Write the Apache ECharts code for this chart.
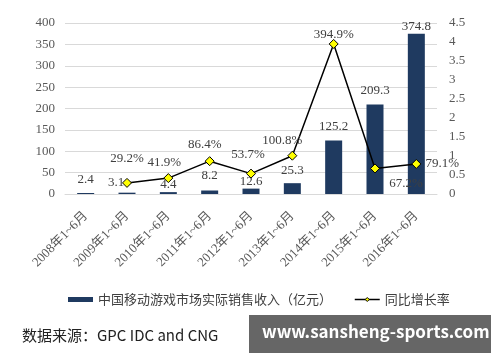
<!DOCTYPE html>
<html>
<head>
<meta charset="utf-8">
<script src="https://cdn.jsdelivr.net/npm/echarts@6/dist/echarts.min.js"></script>
<style>html,body{margin:0;padding:0;background:#fff}#c{width:500px;height:362px}</style>
</head>
<body>
<div id="c"></div>
<script>
var categories = ['2008年1~6月','2009年1~6月','2010年1~6月','2011年1~6月','2012年1~6月','2013年1~6月','2014年1~6月','2015年1~6月','2016年1~6月'];
var revenue = [2.4, 3.1, 4.4, 8.2, 12.6, 25.3, 125.2, 209.3, 374.8];
var growth = [null, 0.292, 0.419, 0.864, 0.537, 1.008, 3.949, 0.672, 0.791];
var leftTicks = [0, 50, 100, 150, 200, 250, 300, 350, 400];
var rightTicks = [0, 0.5, 1, 1.5, 2, 2.5, 3, 3.5, 4, 4.5];
var barName = '中国移动游戏市场实际销售收入（亿元）';
var lineName = '同比增长率';
var sourceText = '数据来源：GPC IDC and CNG';
var siteText = 'www.sansheng-sports.com';

// label placement tweaks (style only)
var barLabelShift = [[0,-6],[-11,-3],[0,0],[0,-7],[0,0],[0,-5],[0,-6],[0,-6],[0,0]];
var lineLabelShift = [[0,0],[0,-24],[-4,-15],[-5,-17],[-3,-19],[-10,-15],[0,-9],[31,15],[26,0]];

var serif = '"Liberation Serif","DejaVu Serif","Noto Sans CJK SC",serif';
var sans = '"Noto Sans CJK SC","Noto Sans",sans-serif';

var barData = revenue.map(function(v, i){
  return {value: v, label: {offset: barLabelShift[i]}};
});
var lineData = growth.map(function(v, i){
  if (v === null) return '-';
  return {value: v, label: {offset: lineLabelShift[i]}};
});

var chart = echarts.init(document.getElementById('c'), null, {renderer: 'canvas'});
chart.setOption({
  animation: false,
  grid: {left: 65, right: 63, top: 23, bottom: 168},
  legend: {
    left: 63, top: 288,
    itemGap: 22,
    textStyle: {fontFamily: sans, fontSize: 13, color: '#404040'},
    data: [
      {name: barName, icon: 'rect', itemStyle: {color: '#1f3a60'}},
      {name: lineName, itemStyle: {color: '#ffff00', borderColor: '#000', borderWidth: 1}, lineStyle: {color: '#000', width: 1.5}}
    ],
    itemWidth: 25, itemHeight: 5
  },
  xAxis: {
    type: 'category',
    data: categories,
    axisLine: {lineStyle: {color: '#d9d9d9'}},
    axisTick: {show: false},
    axisLabel: {rotate: 45, interval: 0, margin: 20, fontFamily: serif, fontSize: 13, color: '#595959'}
  },
  yAxis: [
    {
      type: 'value', min: leftTicks[0], max: leftTicks[leftTicks.length-1], interval: leftTicks[1]-leftTicks[0],
      axisLine: {show: false}, axisTick: {show: false},
      splitLine: {lineStyle: {color: '#d9d9d9'}},
      axisLabel: {fontFamily: serif, fontSize: 13, color: '#595959', margin: 10}
    },
    {
      type: 'value', min: rightTicks[0], max: rightTicks[rightTicks.length-1], interval: rightTicks[1]-rightTicks[0],
      axisLine: {show: false}, axisTick: {show: false},
      splitLine: {show: false},
      axisLabel: {fontFamily: serif, fontSize: 13, color: '#595959', margin: 12}
    }
  ],
  series: [
    {
      name: barName, type: 'bar', yAxisIndex: 0, barWidth: 17,
      itemStyle: {color: '#1f3a60'},
      label: {show: true, position: 'top', distance: 1, fontFamily: serif, fontSize: 13, color: '#404040'},
      data: barData
    },
    {
      name: lineName, type: 'line', yAxisIndex: 1,
      symbol: 'diamond', symbolSize: 9,
      lineStyle: {color: '#000', width: 1.5},
      itemStyle: {color: '#ffff00', borderColor: '#000', borderWidth: 1},
      label: {show: true, position: 'inside', fontFamily: serif, fontSize: 13, color: '#404040',
        formatter: function(p){ return (p.value*100).toFixed(1) + '%'; }},
      data: lineData,
      z: 5
    }
  ],
  graphic: [
    {type: 'text', left: 22, top: 328, style: {text: sourceText, font: '15px ' + sans, fill: '#222'}},
    {type: 'rect', left: 249, top: 315, shape: {width: 242, height: 38}, style: {fill: '#666666'}},
    {type: 'text', left: 262, top: 323, style: {text: siteText, font: 'bold 17px ' + sans, fill: '#fff'}}
  ]
});
</script>
</body>
</html>
